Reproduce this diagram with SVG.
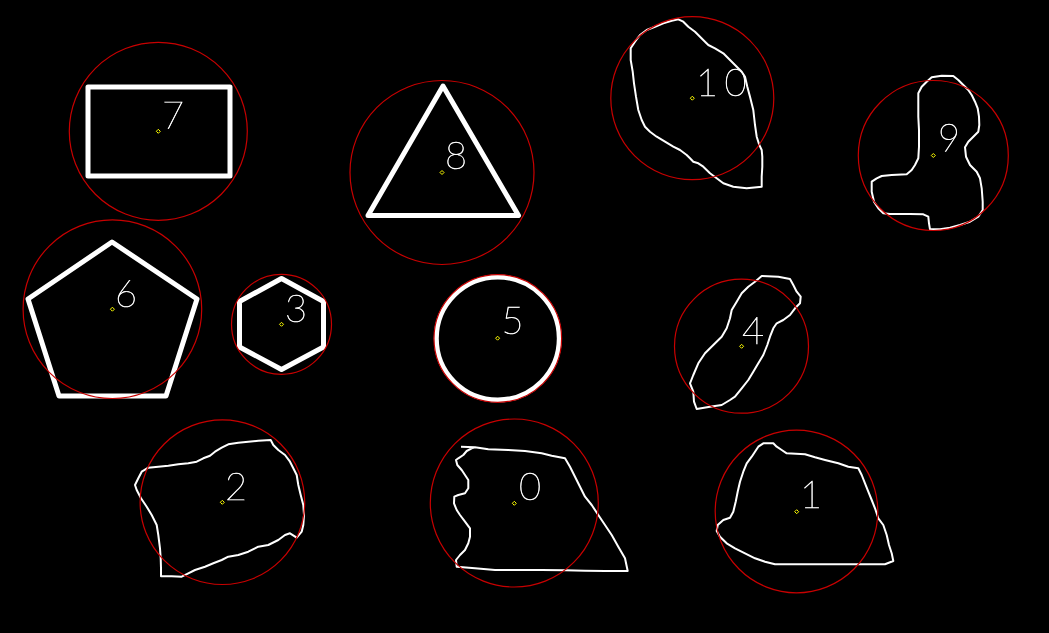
<svg xmlns="http://www.w3.org/2000/svg" width="1049" height="633" viewBox="0 0 1049 633">
<defs>
<filter id="gray" x="-20%" y="-20%" width="140%" height="140%"><feOffset dx="0" dy="0"/></filter>
</defs>
<style>
.bg{fill:#000}
.enc{fill:none;stroke:#c80000;stroke-width:1.2}
.thick{fill:none;stroke:#fff;stroke-width:5;stroke-linejoin:round}
.cont{fill:none;stroke:#fff;stroke-width:2;stroke-linejoin:round}
.ctr{fill:none;stroke:#ffff00;stroke-width:1}
.lbl{fill:#fff;stroke:#fff;stroke-width:0.6;filter:url(#gray);font-family:Lato,Inter,"DejaVu Sans",sans-serif;font-weight:100;font-size:38px}
</style>
<rect class="bg" x="0" y="0" width="1049" height="633"/>
<g id="shape7">
<rect class="thick" x="88" y="87" width="142" height="89"/>
<circle class="enc" cx="158.3" cy="131.3" r="89"/>
<path class="ctr" d="M158.3 129.3 L160.3 131.3 L158.3 133.3 L156.3 131.3 Z"/>
<text class="lbl" x="162" y="129">7</text>
</g>
<g id="shape8">
<polygon class="thick" points="443,86 518.5,215.5 368,215.5"/>
<circle class="enc" cx="442" cy="172.5" r="92"/>
<path class="ctr" d="M442 170.5 L444 172.5 L442 174.5 L440 172.5 Z"/>
<text class="lbl" x="445" y="169">8</text>
</g>
<g id="shape10">
<polygon class="cont" points="678.3,19.3 683.3,21.7 688.3,26.7 695,31.7 700,36.7 705,41.7 708.3,45 715,48.3 723.3,53.3 730,60 735,65 741.7,71.7 745,76.7 747.3,86.7 750,96.7 753.3,110 755,125 756.7,136.7 759.3,145 761.7,150 762.3,156.7 762.3,166.7 761.7,176.7 761.7,186.7 746.7,188.3 733.3,186.7 723.3,183.3 716.7,178.3 710,173.3 703.3,166.7 698.3,163.3 693.3,161.7 690,158.3 686.7,155 680,150 673.3,146.7 665,141.7 656.7,136.7 650,131.7 645,126.7 641.7,120 638.3,110 636,96.7 634,83.3 632.7,71.7 630.7,60 630.7,48.3 635,41.7 640,35 646.7,30 655,26.7 663.3,23.3 671.7,20.7"/>
<circle class="enc" cx="692.3" cy="98.2" r="81.5"/>
<path class="ctr" d="M692.3 96.2 L694.3 98.2 L692.3 100.2 L690.3 98.2 Z"/>
<text class="lbl" x="696 724.5" y="95.7">10</text>
</g>
<g id="shape9">
<polygon class="cont" points="931.7,77.3 941.7,75.7 953.3,76 958.3,80 963.3,85 968.3,90 971.7,95 975,101.7 977.7,108.3 979,116.7 979.3,125 978.3,131.7 973.3,136.7 968.3,141.7 965,147.3 966,156.7 970,165 976.7,171.7 980,178.3 981.7,188.3 982.7,201.7 982.7,210 978.3,216.7 970,221.7 960,225 950,227.7 940,229.3 930,229.3 929,223.3 928.3,216.7 923.3,214.3 910,214 890,214 883.3,213.3 878.3,208.3 874,201.7 871.7,191.7 871.7,181.7 876.7,178.3 881.7,176 891.7,175 906.7,174.3 911.7,170 915,165 918.3,158.3 919,146.7 919,130 918.3,116.7 918.3,103.3 918.3,93.3 921.7,86.7 926.7,81.7"/>
<circle class="enc" cx="933.3" cy="155.5" r="75"/>
<path class="ctr" d="M933.3 153.5 L935.3 155.5 L933.3 157.5 L931.3 155.5 Z"/>
<text class="lbl" x="938" y="151">9</text>
</g>
<g id="shape6">
<polygon class="thick" points="112,242 197,299 166,396 59,396 28,299"/>
<circle class="enc" cx="112.4" cy="309.2" r="89.3"/>
<path class="ctr" d="M112.4 307.2 L114.4 309.2 L112.4 311.2 L110.4 309.2 Z"/>
<text class="lbl" x="115" y="306.7">6</text>
</g>
<g id="shape3">
<polygon class="thick" points="281.5,278.5 323.5,301.5 323.5,347 281.5,369.5 239.5,347 239.5,301.5"/>
<circle class="enc" cx="281.5" cy="324.3" r="50"/>
<path class="ctr" d="M281.5 322.3 L283.5 324.3 L281.5 326.3 L279.5 324.3 Z"/>
<text class="lbl" x="285" y="321.7">3</text>
</g>
<g id="shape5">
<circle class="thick" cx="497.8" cy="338.5" r="61.5"/>
<circle class="enc" cx="497.8" cy="338.5" r="63.8"/>
<path class="ctr" d="M497.6 336.2 L499.6 338.2 L497.6 340.2 L495.6 338.2 Z"/>
<text class="lbl" x="501.5" y="334.3">5</text>
</g>
<g id="shape4">
<polygon class="cont" points="761.7,276 778.3,276.7 790,279 793.3,285 796.7,291.7 800.7,296.7 800,303.3 795,308.3 790,315 783.3,320 776.7,323.3 773.3,328.3 770,336.7 767.3,345 763.3,355 758.3,363.3 753.3,371.7 748.3,380 741.7,388.3 735,396.7 730,400 721.7,405 710,406.7 696.7,409 694,401.7 693.3,391.7 690,383.3 693.3,375 698.3,363.3 705,353.3 713.3,345 721.7,336.7 726.7,328.3 730,318.3 731.7,310 736.7,301.7 741.7,293.3 748.3,286.7 755,281.7"/>
<circle class="enc" cx="741.5" cy="346.2" r="67"/>
<path class="ctr" d="M741.6 344.3 L743.6 346.3 L741.6 348.3 L739.6 346.3 Z"/>
<text class="lbl" x="742" y="343.7">4</text>
</g>
<g id="shape2">
<polygon class="cont" points="135,485 138.3,478.3 141.7,471.7 148.3,467.7 158.3,466.7 168.3,465.7 178.3,464.3 188.3,463.3 196.7,461.7 203.3,458.3 210,455.7 215,451.7 221.7,447.7 228.3,444.3 238.3,442.7 248.3,441.7 258.3,440.7 270.7,440 273.3,445 278.3,450 285,455 290,461.7 293.3,468.3 296.7,475 298.3,485 300.7,495 303.3,505 304,515 303.3,525 301.7,531.7 296.7,537.7 290,533.3 285,535 278.3,540 268.3,545 258.3,546.7 248.3,551.7 238.3,555 228.3,556.7 221.7,560 213.3,563.3 205,566.7 195,570 188.3,573.3 181.7,576.7 171.7,576.3 161,576.3 161,568.3 160.7,558.3 160,548.3 158.3,535 156.7,525 151.7,515 146.7,506.7 141,498.3 136.7,490"/>
<circle class="enc" cx="222.4" cy="502.2" r="82.3"/>
<path class="ctr" d="M222.3 500.3 L224.3 502.3 L222.3 504.3 L220.3 502.3 Z"/>
<text class="lbl" x="225" y="500">2</text>
</g>
<g id="shape0">
<path class="cont" d="M461 446.7 L475 447.3 L488.3 449.3 L508.3 450 L525 451 L541.7 453.3 L551.7 455.7 L565 458.3 L570 466.7 L575 476.7 L580 486.7 L585 496.7 L591.7 505 L598.3 515 L605 525 L611.7 535 L618.3 546.7 L625 558.3 L627.7 571 L605 571 L585 570.7 L565 570.3 L541.7 570 L518.3 570 L495 570 L475 568.3 L456.7 566.7 L456 560 L460 555 L465 550 L468.3 543.3 L470 536.7 L470 528.3 L465 521.7 L460 515 L456.7 510 L454 503.3 L454.3 496.7 L458.3 495 L465 493.3 L468.3 488.3 L468.3 480 L465 475 L461.7 470 L457.3 465 L456 460 L458.3 458.3 L463.3 455 L466.7 451 L471.7 448.3 L475 447.3"/>
<circle class="enc" cx="514.3" cy="503" r="84"/>
<path class="ctr" d="M514.3 501.3 L516.3 503.3 L514.3 505.3 L512.3 503.3 Z"/>
<text class="lbl" x="519" y="500">0</text>
</g>
<g id="shape1">
<polygon class="cont" points="763.3,443.3 773.3,443.3 776.7,446.7 781.7,450 786.7,453.3 805,454.3 815,457.3 825,460 838.3,463.3 848.3,466.7 858.3,468.3 861.7,475 865,483.3 868.3,491.7 871.7,500 875,508.3 878.3,518.3 883.3,525 886.7,535 889,545 891.7,553.3 893.3,561 885,564.3 855,564.3 805,564.3 775,564.3 765,561.7 755,558.3 745,553.3 735,548.3 726.7,543.3 720,536.7 716.7,531 717.7,525 723.3,520 730,517.7 733.3,511.7 735.7,501.7 737.7,491.7 740,481.7 743.3,471.7 746.7,463.3 751.7,456.7 755,451.7 758.3,446.7"/>
<circle class="enc" cx="796.5" cy="511.5" r="81.3"/>
<path class="ctr" d="M796.7 509.7 L798.7 511.7 L796.7 513.7 L794.7 511.7 Z"/>
<text class="lbl" x="800" y="507.7">1</text>
</g>
</svg>
